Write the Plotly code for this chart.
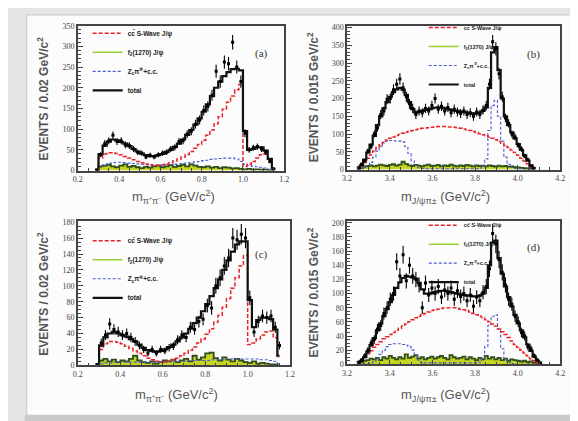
import numpy as np
import plotly.graph_objects as go

W, H = 578, 421

# ---------------- data ----------------
# bin centres
x_pipi = [round(0.29 + 0.02 * i, 2) for i in range(44)]
x_jpsipi_b = [round(3.2525 + 0.015 * i, 4) for i in range(56)]
x_jpsipi_d = [round(3.2525 + 0.015 * i, 4) for i in range(58)]

# panel (a)
data_a = [1, 38, 65, 72, 85, 70, 72, 62, 60, 52, 44, 42, 33, 37, 33, 38, 42, 44, 52, 56, 70, 72, 88, 95, 112,
          122, 145, 155, 182, 240, 215, 262, 258, 310, 250, 215, 90, 50, 55, 58, 52, 44, 22, 4]
total_a = [2, 40, 60, 70, 75, 73, 69, 65, 59, 52, 46, 41, 37, 35, 35, 37, 40, 45, 50, 57, 65, 75, 86, 98, 111,
           126, 142, 160, 180, 200, 215, 228, 238, 245, 246, 242, 95, 50, 52, 56, 56, 48, 28, 6]
cc_a = [0, 30, 40, 43, 43, 41, 38, 34, 30, 26, 22, 19, 16, 14, 13, 13, 14, 16, 19, 23, 28, 33, 39, 46, 54,
        63, 73, 85, 98, 113, 130, 148, 165, 180, 195, 208, 10, 15, 22, 30, 38, 40, 28, 5]
zc_a = [0, 8, 14, 17, 19, 20, 20, 19, 18, 17, 16, 15, 14, 13, 13, 13, 13, 14, 14, 15, 16, 17, 18, 19, 21,
        22, 24, 25, 27, 28, 29, 30, 30, 30, 28, 22, 15, 12, 10, 9, 8, 6, 3, 1]
f2_a = [0, 10, 12, 14, 10, 8, 12, 15, 9, 11, 8, 6, 9, 7, 10, 12, 8, 10, 13, 9, 11, 14, 10, 15, 12,
        9, 8, 10, 7, 9, 6, 8, 7, 5, 6, 4, 3, 4, 2, 3, 2, 2, 1, 0]

# panel (b)
data_b = [5, 15, 25, 52, 65, 100, 118, 155, 165, 198, 200, 225, 240, 255, 230, 205, 185, 172, 155, 165,
          160, 172, 165, 180, 200, 170, 178, 165, 175, 160, 170, 162, 158, 165, 155, 160, 150, 162, 155, 168,
          180, 240, 360, 340, 270, 205, 145, 130, 100, 92, 68, 58, 38, 28, 10, 4]
total_b = [3, 12, 28, 48, 70, 95, 125, 150, 172, 190, 205, 218, 226, 230, 225, 210, 190, 170, 160, 162,
           165, 168, 170, 172, 174, 175, 174, 172, 170, 168, 166, 165, 163, 162, 160, 158, 157, 158, 160, 165,
           175, 230, 330, 345, 280, 200, 150, 125, 105, 88, 72, 55, 40, 25, 12, 3]
cc_b = [2, 10, 20, 32, 42, 52, 62, 70, 77, 83, 88, 92, 96, 99, 102, 105, 108, 110, 112, 114,
        116, 117, 118, 119, 120, 121, 121, 121, 120, 120, 119, 118, 116, 114, 112, 110, 107, 104, 101, 98,
        95, 92, 88, 84, 79, 74, 68, 62, 55, 48, 40, 32, 24, 16, 8, 2]
zc_b = [0, 2, 5, 10, 20, 35, 52, 66, 75, 80, 82, 82, 80, 80, 78, 65, 45, 25, 12, 5,
        3, 2, 2, 2, 2, 2, 2, 2, 2, 2, 2, 2, 2, 2, 2, 2, 2, 2, 4, 10,
        30, 110, 180, 195, 150, 80, 35, 15, 6, 3, 2, 1, 0, 0, 0, 0]
f2_b = [1, 4, 8, 10, 12, 9, 11, 14, 12, 10, 13, 15, 11, 14, 22, 16, 12, 10, 13, 11,
        9, 12, 14, 10, 11, 13, 9, 12, 10, 14, 11, 9, 12, 10, 13, 11, 9, 12, 10, 11,
        9, 12, 10, 8, 11, 9, 10, 8, 9, 7, 6, 5, 4, 3, 2, 1]

# panel (c)
data_c = [1, 28, 38, 52, 45, 42, 38, 40, 35, 30, 25, 20, 15, 20, 15, 20, 18, 22, 24, 32, 38, 35, 48, 45, 55,
          58, 75, 72, 100, 110, 125, 135, 160, 158, 165, 160, 85, 42, 55, 62, 60, 62, 48, 25]
total_c = [1, 25, 35, 40, 42, 40, 38, 36, 33, 30, 26, 22, 19, 18, 17, 18, 20, 23, 26, 30, 35, 40, 46, 53, 60,
           68, 77, 87, 97, 108, 120, 132, 143, 152, 156, 156, 82, 48, 57, 60, 60, 58, 45, 12]
cc_c = [0, 20, 27, 30, 30, 29, 27, 24, 21, 18, 15, 12, 9, 7, 5, 4, 4, 5, 7, 9, 12, 15, 19, 23, 28,
        33, 39, 46, 54, 63, 73, 84, 97, 110, 125, 138, 26, 28, 33, 38, 42, 43, 35, 10]
zc_c = [0, 2, 3, 3, 4, 4, 4, 4, 4, 4, 4, 4, 4, 4, 4, 4, 4, 5, 5, 5, 5, 5, 6, 6, 6,
        6, 6, 7, 7, 7, 7, 8, 8, 8, 8, 8, 8, 8, 8, 7, 7, 6, 5, 2]
f2_c = [0, 6, 8, 5, 7, 4, 6, 5, 8, 12, 6, 4, 3, 5, 2, 4, 6, 5, 7, 4, 6, 8, 5, 12, 7,
        10, 15, 16, 9, 6, 10, 7, 5, 8, 6, 4, 3, 5, 2, 3, 2, 1, 1, 0]

# panel (d)
data_d = [3, 6, 12, 20, 30, 35, 50, 55, 72, 80, 92, 100, 145, 125, 155, 118, 140, 125, 120, 112,
          80, 115, 98, 108, 100, 110, 95, 105, 100, 108, 92, 104, 96, 100, 90, 98, 82, 95, 90, 102,
          110, 135, 185, 170, 148, 130, 112, 92, 85, 68, 60, 45, 40, 25, 22, 12, 6, 2]
total_d = [2, 5, 10, 18, 27, 37, 48, 58, 68, 78, 88, 98, 108, 116, 122, 125, 124, 123, 121, 115,
           106, 100, 100, 101, 102, 103, 104, 104, 103, 102, 101, 100, 99, 98, 97, 97, 96, 96, 97, 100,
           108, 140, 172, 175, 150, 128, 110, 95, 82, 70, 58, 48, 38, 28, 19, 11, 5, 2]
cc_d = [1, 5, 10, 15, 19, 24, 28, 32, 36, 39, 42, 45, 48, 51, 54, 57, 60, 63, 66, 68,
        70, 72, 74, 76, 77, 78, 79, 80, 80, 80, 80, 79, 78, 77, 76, 74, 72, 70, 68, 66,
        63, 60, 57, 54, 50, 46, 42, 38, 33, 28, 24, 20, 16, 12, 8, 5, 2, 1]
zc_d = [0, 0, 1, 1, 2, 4, 8, 14, 20, 25, 28, 29, 29, 29, 28, 27, 25, 20, 12, 6,
        3, 2, 2, 2, 2, 2, 2, 2, 2, 2, 2, 2, 2, 2, 2, 2, 2, 2, 3, 8,
        25, 55, 68, 70, 50, 22, 8, 3, 1, 0, 0, 0, 0, 0, 0, 0, 0, 0]
f2_d = [1, 3, 5, 6, 8, 7, 9, 6, 10, 8, 12, 9, 7, 10, 8, 14, 9, 11, 13, 8,
        10, 7, 9, 11, 8, 10, 12, 9, 7, 13, 10, 8, 9, 11, 7, 10, 8, 6, 9, 7,
        12, 8, 10, 7, 9, 6, 8, 5, 7, 6, 5, 4, 5, 3, 4, 2, 1, 0]

legend_names = ["<b>cc\u0304 S-Wave J/\u03c8</b>", "<b>f<sub>2</sub>(1270) J/\u03c8</b>",
                "<b>Z<sub>c</sub>\u03c0<sup>\u2213</sup>+c.c.</b>", "<b>total</b>"]

# ---------------- styling ----------------
C_RED = "#e8232b"
C_BLUE = "#4a5ccf"
C_F2_FILL = "#c6d520"
C_F2_LINE = "#2f4f1a"
C_F2_LEG = "#9acd32"
C_AX = "#444444"

panels = [
    dict(label="(a)", x=x_pipi, data=data_a, total=total_a, cc=cc_a, zc=zc_a, f2=f2_a,
         px=(66, 276), py=(14, 162), xr=[0.2, 1.2], yr=[0, 350], ydt=50, ymin=10,
         ytitle="EVENTS / 0.02 GeV/c<sup>2</sup>", xtitle="m<sub>\u03c0\u207a\u03c0\u207b</sub> (GeV/c<sup>2</sup>)",
         leg=(76, 7), lab=(253, 42), fs=6.5, xt=27),
    dict(label="(b)", x=x_jpsipi_b, data=data_b, total=total_b, cc=cc_b, zc=zc_b, f2=f2_b,
         px=(340, 557), py=(14, 161), xr=[3.2, 4.2], yr=[0, 405], ydt=50, ymin=10,
         ytitle="EVENTS / 0.015 GeV/c<sup>2</sup>", xtitle="m<sub>J/\u03c8\u03c0\u00b1</sub> (GeV/c<sup>2</sup>)",
         leg=(418, 1), lab=(530, 43), fs=5.5, xt=28),
    dict(label="(c)", x=x_pipi, data=data_c, total=total_c, cc=cc_c, zc=zc_c, f2=f2_c,
         px=(66, 282), py=(214, 361), xr=[0.2, 1.2], yr=[0, 181], ydt=20, ymin=5,
         ytitle="EVENTS / 0.02 GeV/c<sup>2</sup>", xtitle="m<sub>\u03c0\u207a\u03c0\u207b</sub> (GeV/c<sup>2</sup>)",
         leg=(76, 219), lab=(253, 248), fs=6.5, xt=30),
    dict(label="(d)", x=x_jpsipi_d, data=data_d, total=total_d, cc=cc_d, zc=zc_d, f2=f2_d,
         px=(340, 557), py=(214, 360), xr=[3.2, 4.2], yr=[0, 202], ydt=20, ymin=5,
         ytitle="EVENTS / 0.015 GeV/c<sup>2</sup>", xtitle="m<sub>J/\u03c8\u03c0\u00b1</sub> (GeV/c<sup>2</sup>)",
         leg=(418, 203), lab=(530, 241), fs=5.5, xt=31),
]

fig = go.Figure()
layout = dict(
    width=W, height=H, margin=dict(l=0, r=0, t=0, b=0),
    paper_bgcolor="#e6e4e2", plot_bgcolor="white", showlegend=True,
    shapes=[], annotations=[],
)

for i, p in enumerate(panels):
    n = "" if i == 0 else str(i + 1)
    xa, ya = "x" + n, "y" + n
    leg = "legend" + n
    xs = p["x"]
    # f2 filled band
    fig.add_trace(go.Scatter(x=xs, y=p["f2"], mode="lines", line=dict(shape="hvh", color=C_F2_LINE, width=1.8),
                             fill="tozeroy", fillcolor=C_F2_FILL, showlegend=False, xaxis=xa, yaxis=ya,
                             legend=leg, hoverinfo="skip"))
    # Zc
    fig.add_trace(go.Scatter(x=xs, y=p["zc"], mode="lines",
                             line=dict(shape="hvh", color=C_BLUE, width=1.1, dash="3px,2px"),
                             name=legend_names[2], legend=leg, legendrank=3, xaxis=xa, yaxis=ya))
    # cc S-wave
    fig.add_trace(go.Scatter(x=xs, y=p["cc"], mode="lines",
                             line=dict(shape="hvh", color=C_RED, width=1.5, dash="4px,2px"),
                             name=legend_names[0], legend=leg, legendrank=1, xaxis=xa, yaxis=ya))
    # f2 legend entry
    fig.add_trace(go.Scatter(x=[None], y=[None], mode="lines", line=dict(color=C_F2_LEG, width=1.5),
                             name=legend_names[1], legend=leg, legendrank=2, xaxis=xa, yaxis=ya))
    # total
    fig.add_trace(go.Scatter(x=xs, y=p["total"], mode="lines", line=dict(shape="hvh", color="#111111", width=2.2),
                             name=legend_names[3], legend=leg, legendrank=4, xaxis=xa, yaxis=ya))
    # data points
    d = np.array(p["data"], dtype=float)
    fig.add_trace(go.Scatter(x=xs, y=d, mode="markers",
                             marker=dict(symbol="square", size=3, color="black"),
                             error_y=dict(type="data", array=np.sqrt(d), color="black", thickness=1.1, width=0),
                             showlegend=False, xaxis=xa, yaxis=ya))

    xd = [p["px"][0] / W, p["px"][1] / W]
    yd = [1 - p["py"][1] / H, 1 - p["py"][0] / H]
    common = dict(showline=True, linecolor=C_AX, linewidth=1.5, mirror=True, ticks="inside", ticklen=5,
                  tickcolor=C_AX, tickwidth=1, showgrid=False, zeroline=False,
                  tickfont=dict(family="Liberation Serif", size=8, color="#444"))
    layout["xaxis" + n] = dict(common, domain=xd, range=p["xr"], anchor=ya, dtick=0.2, tick0=0.2,
                               tickformat=".1f", minor=dict(ticks="inside", ticklen=3, dtick=0.05, tickcolor=C_AX))
    layout["yaxis" + n] = dict(common, domain=yd, range=p["yr"], anchor=xa, dtick=p["ydt"],
                               minor=dict(ticks="inside", ticklen=3, dtick=p["ymin"], tickcolor=C_AX))
    layout[leg] = dict(x=p["leg"][0] / W, y=1 - p["leg"][1] / H, xanchor="left", yanchor="top",
                       bgcolor="rgba(0,0,0,0)", font=dict(family="Liberation Sans", size=p["fs"], color="#222"),
                       itemwidth=30, tracegroupgap=0, traceorder="normal")
    # titles and labels
    cx = (p["px"][0] + p["px"][1]) / 2
    cy = (p["py"][0] + p["py"][1]) / 2
    ytx = p["px"][0] - 35
    layout["annotations"] += [
        dict(text="<b>" + p["ytitle"] + "</b>", x=ytx / W, y=1 - cy / H, xref="paper", yref="paper",
             xanchor="center", yanchor="middle",
             textangle=-90, showarrow=False, font=dict(family="Liberation Sans", size=12, color="#555")),
        dict(text=p["xtitle"], x=(cx - 8) / W, y=1 - (p["py"][1] + p["xt"]) / H, xref="paper", yref="paper",
             xanchor="center", yanchor="middle",
             showarrow=False, font=dict(family="Liberation Sans", size=13, color="#555")),
        dict(text=p["label"], x=p["lab"][0] / W, y=1 - p["lab"][1] / H, xref="paper", yref="paper",
             xanchor="center", yanchor="middle",
             showarrow=False, font=dict(family="Liberation Serif", size=11, color="#333")),
    ]

# page decoration (card with shadow)
layout["shapes"] = [
    dict(type="rect", xref="paper", yref="paper", x0=12 / W, x1=1, y0=0, y1=1 - 412 / H,
         fillcolor="#cbcbcb", line=dict(width=0), layer="below"),
    dict(type="rect", xref="paper", yref="paper", x0=14 / W, x1=570 / W, y0=1 - 412 / H, y1=1 - 3 / H,
         fillcolor="#fcfcfc", line=dict(color="#c4c4c4", width=1), layer="below"),
]

fig.update_layout(**layout)
fig.write_html("out.html")
